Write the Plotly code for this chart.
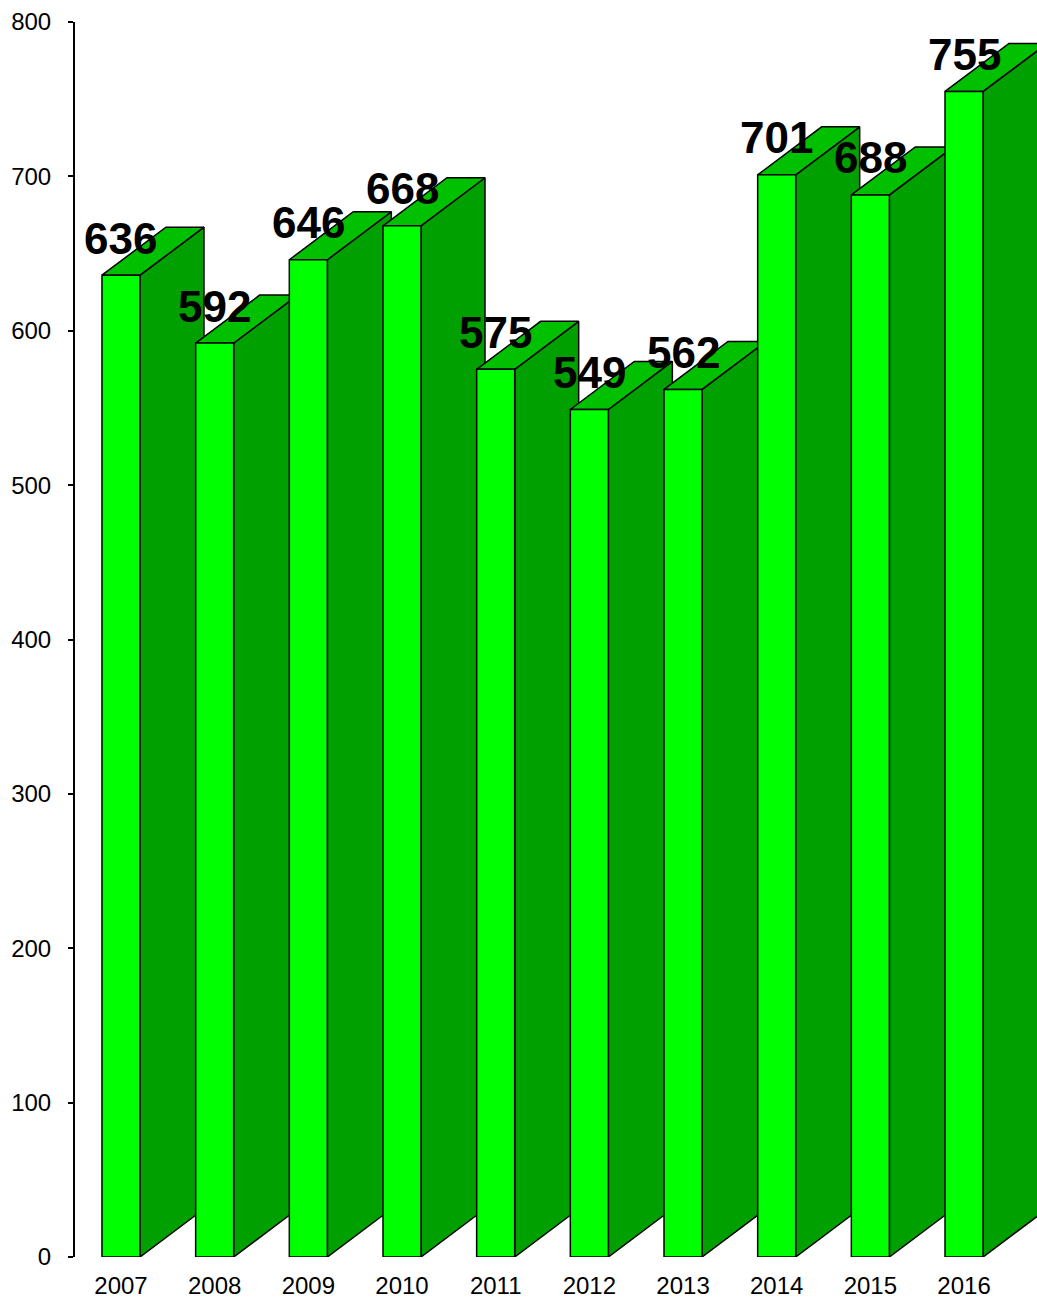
import plotly.graph_objects as go

years = ["2007", "2008", "2009", "2010", "2011", "2012", "2013", "2014", "2015", "2016"]
values = [636, 592, 646, 668, 575, 549, 562, 701, 688, 755]
y_ticks = [0, 100, 200, 300, 400, 500, 600, 700, 800]

FRONT = "#00FF00"
TOP = "#00C000"
SIDE = "#00A000"
EDGE = "black"

half_w = 0.203   # half width of front face (category units)
dx = 0.683       # depth offset in x (category units)
dy = 31.1        # depth offset in y (data units)

fig = go.Figure()

def poly(xs, ys, color):
    fig.add_trace(go.Scatter(
        x=xs + [xs[0]], y=ys + [ys[0]], mode="lines", fill="toself",
        fillcolor=color, line=dict(color=EDGE, width=1.5),
        hoverinfo="skip", showlegend=False))

for i, v in enumerate(values):
    xl, xr = i - half_w, i + half_w
    # side face
    poly([xr, xr, xr + dx, xr + dx], [0, v, v + dy, dy], SIDE)
    # top face
    poly([xl, xr, xr + dx, xl + dx], [v, v, v + dy, v + dy], TOP)
    # front face
    poly([xl, xr, xr, xl], [0, 0, v, v], FRONT)

for i, v in enumerate(values):
    fig.add_annotation(x=i, y=v, text=f"<b>{v}</b>", showarrow=False,
                       yanchor="middle", yshift=37,
                       font=dict(size=44, color="black", family="Liberation Sans, Arial"))

fig.update_layout(
    width=1037, height=1300,
    margin=dict(l=75, r=0, t=22, b=43),
    paper_bgcolor="white", plot_bgcolor="white",
    font=dict(family="Liberation Sans, Arial", color="black", size=24),
    xaxis=dict(range=[-0.491, 9.779], tickvals=list(range(len(years))), ticktext=years,
               showgrid=False, zeroline=False, showline=False, automargin=False,
               ticks="outside", ticklen=7, tickcolor="rgba(0,0,0,0)",
               tickfont=dict(size=24)),
    yaxis=dict(range=[0, 800], tickvals=y_ticks, showgrid=False, zeroline=False,
               showline=True, linecolor="black", linewidth=2, automargin=False,
               ticks="outside", ticklen=5, tickcolor="black", tickwidth=1.5,
               ticklabelstandoff=12, tickfont=dict(size=24)),
)

fig.write_html("out.html", config={"displayModeBar": False},
               post_script="document.body.style.margin='0';document.body.style.overflow='hidden';")
